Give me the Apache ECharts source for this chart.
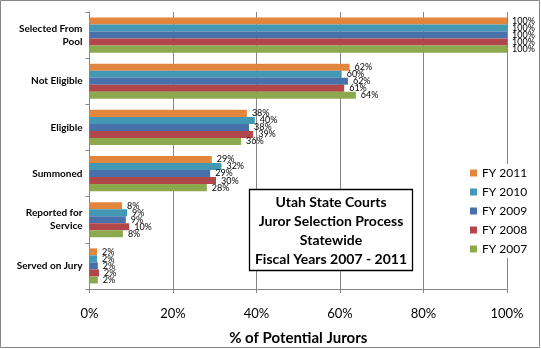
<!DOCTYPE html>
<html>
<head>
<meta charset="utf-8">
<script src="https://cdn.jsdelivr.net/npm/echarts@6/dist/echarts.min.js"></script>
<style>html,body{margin:0;padding:0;background:#fff}#c{width:541px;height:349px}</style>
</head>
<body>
<div id="c"></div>
<script>
var categories = ["Selected From\nPool", "Not Eligible", "Eligible", "Summoned", "Reported for\nService", "Served on Jury"];
var fy2011 = [100, 62.3, 37.7, 29.3, 7.8, 1.8];
var fy2010 = [100, 60.4, 39.6, 31.6, 9.0, 1.8];
var fy2009 = [100, 61.9, 38.2, 28.9, 8.7, 2.0];
var fy2008 = [100, 61.0, 39.2, 30.3, 9.5, 2.3];
var fy2007 = [100, 63.8, 36.3, 28.1, 8.0, 2.0];
var seriesNames = ["FY 2011", "FY 2010", "FY 2009", "FY 2008", "FY 2007"];
var xTicks = [0, 20, 40, 60, 80, 100];
var boxLines = ["Utah State Courts", "Juror Selection Process", "Statewide", "Fiscal Years 2007 - 2011"];

var colors = {"FY 2011": "#E3863D", "FY 2010": "#4399B3", "FY 2009": "#4870AB", "FY 2008": "#B1474A", "FY 2007": "#8DA94E"};
var seriesData = {"FY 2011": fy2011, "FY 2010": fy2010, "FY 2009": fy2009, "FY 2008": fy2008, "FY 2007": fy2007};
var font = "Lato, 'Open Sans', sans-serif";

var series = seriesNames.map(function (n) {
  return {
    name: n, type: "bar", data: seriesData[n],
    barGap: "0%", barCategoryGap: "24%",
    itemStyle: {color: colors[n]},
    label: {show: true, position: "right", distance: 5, fontSize: 9, color: "#000", fontFamily: font,
      formatter: function (p) { return Math.round(p.value) + "%"; }},
    animation: false
  };
});

var chart = echarts.init(document.getElementById("c"), null, {renderer: "canvas"});
chart.setOption({
  animation: false,
  grid: {left: 89.5, right: 34, top: 12, bottom: 60, containLabel: false, outerBoundsMode: "none"},
  xAxis: {
    type: "value", min: 0, max: 100, interval: 20,
    axisLabel: {formatter: function (v) { return xTicks.indexOf(v) >= 0 ? v + "%" : ""; }, fontSize: 13, color: "#000", fontFamily: font, margin: 18},
    axisLine: {show: true, lineStyle: {color: "#868686"}},
    axisTick: {show: true, length: 4, lineStyle: {color: "#868686"}},
    splitLine: {show: true, lineStyle: {color: "#868686", width: 1}},
    name: "% of Potential Jurors", nameLocation: "middle", nameGap: 42,
    nameTextStyle: {fontSize: 15, fontWeight: "bold", color: "#000", fontFamily: font}
  },
  yAxis: {
    type: "category", data: categories, inverse: true,
    axisLine: {show: true, lineStyle: {color: "#868686"}},
    axisTick: {show: true, length: 4, lineStyle: {color: "#868686"}},
    axisLabel: {fontSize: 10, fontWeight: "bold", color: "#000", fontFamily: font, margin: 7, lineHeight: 13, align: "right"}
  },
  legend: {
    orient: "vertical", left: 466, top: 164, itemWidth: 7, itemHeight: 7, itemGap: 7,
    backgroundColor: "#fff", padding: [3, 4, 3, 4],
    data: seriesNames, icon: "rect",
    textStyle: {fontSize: 12, color: "#000", fontFamily: font}
  },
  series: series,
  graphic: [
    {type: "rect", shape: {x: 0.5, y: 0.5, width: 539, height: 347}, style: {fill: null, stroke: "#868686", lineWidth: 1}, silent: true, z: 100},
    {type: "rect", shape: {x: 249.5, y: 189.5, width: 163, height: 81}, style: {fill: "#fff", stroke: "#000", lineWidth: 1.3}, z: 100},
    {type: "text", x: 331, y: 193, z: 101,
      style: {text: boxLines.join("\n"), fontWeight: "bold", fontSize: 14, fontFamily: font, fill: "#000", align: "center", verticalAlign: "top", lineHeight: 19}}
  ]
});
</script>
</body>
</html>
